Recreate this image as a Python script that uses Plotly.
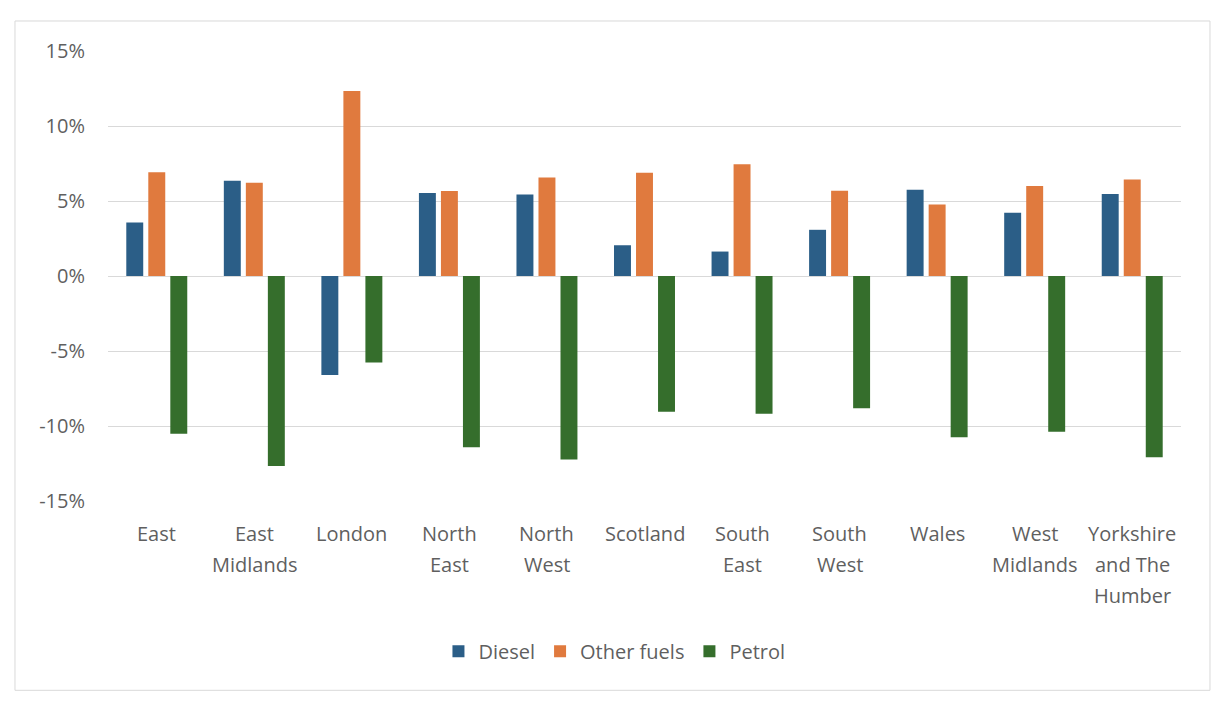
import plotly.graph_objects as go

regions = ["East", "East<br>Midlands", "London", "North<br>East", "North<br>West", "Scotland",
           "South<br>East", "South<br>West", "Wales", "West<br>Midlands", "Yorkshire<br>and The<br>Humber"]
diesel = [3.57, 6.35, -6.6, 5.53, 5.44, 2.05, 1.63, 3.08, 5.75, 4.21, 5.46]
other_fuels = [6.91, 6.22, 12.33, 5.67, 6.56, 6.89, 7.45, 5.69, 4.77, 6.0, 6.44]
petrol = [-10.52, -12.66, -5.77, -11.42, -12.24, -9.05, -9.18, -8.81, -10.75, -10.39, -12.08]
y_ticks = [-15, -10, -5, 0, 5, 10, 15]
y_tick_labels = ["-15%", "-10%", "-5%", "0%", "5%", "10%", "15%"]

series = [("Diesel", diesel, "#2B5E87"), ("Other fuels", other_fuels, "#E07A3E"), ("Petrol", petrol, "#356E2C")]

FONT = "Open Sans"
GREY = "#5F5F5F"
FS = 20

fig = go.Figure()
for name, vals, col in series:
    fig.add_trace(go.Bar(x=regions, y=vals, name=name, marker=dict(color=col, line=dict(width=0))))

annotations = []
for r in regions:
    for j, line in enumerate(r.split("<br>")):
        annotations.append(dict(x=r, xref="x", y=0, yref="paper", text=line, showarrow=False,
                                yanchor="middle", xanchor="center", yshift=-32.6 - 31 * j,
                                font=dict(family=FONT, size=FS, color=GREY)))

fig.update_layout(
    width=1226, height=708,
    margin=dict(l=108, r=45, t=51, b=207),
    paper_bgcolor="white", plot_bgcolor="white",
    barmode="group", bargap=0.323, bargroupgap=0.23,
    font=dict(family=FONT, size=FS, color=GREY),
    xaxis=dict(showticklabels=False, showgrid=False, zeroline=False, showline=False, ticks=""),
    yaxis=dict(range=[-15, 15], tickvals=y_ticks, ticktext=y_tick_labels, showgrid=True, gridcolor="#D9D9D9",
               gridwidth=1, zeroline=True, zerolinecolor="#D9D9D9", zerolinewidth=1, showline=False,
               ticks="", ticklabelstandoff=22, tickfont=dict(family=FONT, size=FS, color=GREY)),
    legend=dict(orientation="h", x=0.472, y=-0.334, xanchor="center", yanchor="middle",
                font=dict(family=FONT, size=FS, color=GREY), traceorder="normal"),
    annotations=annotations,
    shapes=[dict(type="rect", xref="paper", yref="paper", x0=-0.0867, x1=1.027, y0=-0.4207, y1=1.0667,
                 line=dict(color="#D9D9D9", width=1), layer="below")],
)

fig.write_html("out.html", config={"displayModeBar": False},
               post_script="document.body.style.margin='0';")
